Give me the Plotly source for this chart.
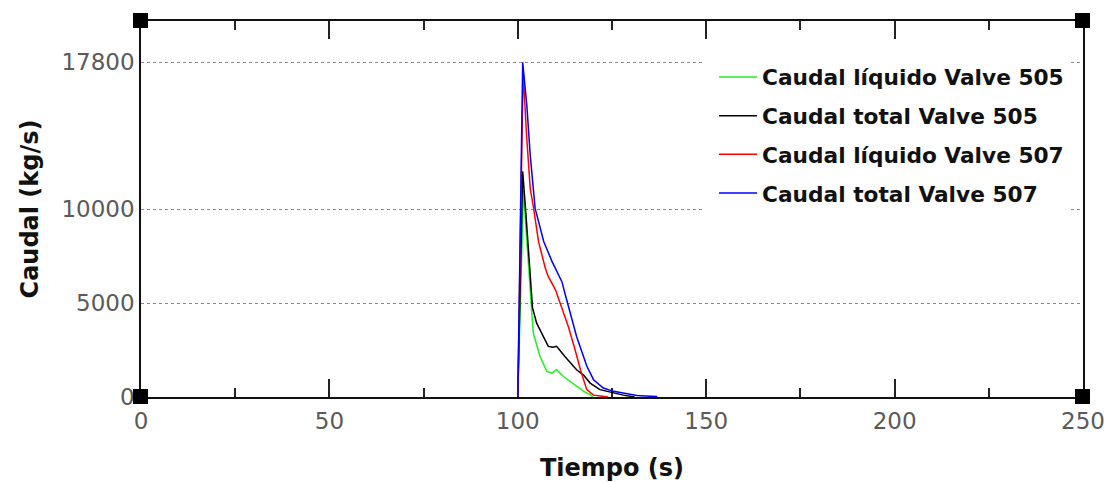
import plotly.graph_objects as go

# ---- data ----
t_liq_505 = [100, 101.5, 102.4, 103.5, 104.1, 105.9, 107.7, 109.0, 110.3, 112.1, 115.6, 117.5, 119.2, 120]
v_liq_505 = [0, 11000, 8300, 4800, 3400, 2150, 1360, 1270, 1450, 1090, 560, 300, 120, 0]

t_tot_505 = [100, 101.3, 102.2, 103.9, 105.0, 106.8, 108.1, 109.3, 110.3, 112.5, 115.6, 117.5, 119.2, 121.8, 124.9, 128, 131]
v_tot_505 = [0, 12000, 9600, 4750, 3930, 3220, 2690, 2650, 2700, 2150, 1450, 1150, 740, 390, 240, 100, 0]

t_liq_507 = [100, 101.4, 102.3, 103.3, 104.2, 105.5, 107.3, 108.1, 110.0, 111.6, 113.4, 115.2, 116.7, 118.3, 120.1, 122, 124]
v_liq_507 = [0, 17300, 14000, 11090, 10030, 8260, 6850, 6400, 5700, 4810, 3750, 2510, 1400, 390, 100, 50, 0]

t_tot_507 = [100, 101.3, 102.4, 103.3, 104.6, 106.9, 109.1, 111.7, 112.5, 113.9, 115.6, 116.5, 118.3, 120.1, 122.7, 125.4, 128.9, 131.6, 134, 137]
v_tot_507 = [0, 17800, 15500, 12860, 10030, 8260, 7200, 6135, 5520, 4460, 3220, 2700, 1650, 920, 480, 300, 160, 80, 50, 20]

names = ["Caudal líquido Valve 505", "Caudal total Valve 505",
         "Caudal líquido Valve 507", "Caudal total Valve 507"]
colors = ["#22ee22", "#000000", "#ff0000", "#0000ff"]

x_ticks = [0, 50, 100, 150, 200, 250]
y_ticks = [0, 5000, 10000, 17800]

series = [(t_liq_505, v_liq_505), (t_tot_505, v_tot_505),
          (t_liq_507, v_liq_507), (t_tot_507, v_tot_507)]

fig = go.Figure()
for i, ((t, v), n, c) in enumerate(zip(series, names, colors)):
    fig.add_trace(go.Scatter(x=t, y=v, mode="lines", name=n, legendgroup=f"g{i}",
                             line=dict(color=c, width=1.5)))

tickfont = dict(family="DejaVu Sans", size=23, color="#5a5a5a")
titlefont = dict(family="DejaVu Sans", size=24, color="#111111", weight="bold")

fig.update_layout(
    width=1114, height=482,
    margin=dict(l=141, r=31, t=21, b=85),
    paper_bgcolor="white", plot_bgcolor="white",
    showlegend=True,
    legend=dict(x=0.5966, xanchor="left", y=0.906, yanchor="top",
                bgcolor="white", borderwidth=0, tracegroupgap=7.5,
                itemwidth=38, indentation=11,
                entrywidth=370, entrywidthmode="pixels",
                font=dict(family="DejaVu Sans", size=21.7, color="#111111", weight="bold")),
    xaxis=dict(range=[0, 250], tickvals=x_ticks, ticks="inside", ticklen=18, tickwidth=1.5,
               tickcolor="#222222", showline=True, linecolor="#111111", linewidth=1.5,
               mirror="allticks", showgrid=False, zeroline=False, layer="below traces",
               tickfont=tickfont, tickformat="d", automargin=False, ticklabelstandoff=3,
               minor=dict(dtick=25, tick0=0, ticks="inside", ticklen=9, tickwidth=1.5,
                          tickcolor="#222222", showgrid=False),
               title=dict(text="Tiempo (s)", font=titlefont, standoff=28)),
    yaxis=dict(range=[0, 20000], tickvals=y_ticks, ticks="", showline=True,
               linecolor="#111111", linewidth=1.5, mirror=True, zeroline=False,
               showgrid=True, gridcolor="#888888", griddash="dot", gridwidth=1,
               layer="below traces", tickfont=tickfont, tickformat="d", automargin=False,
               title=dict(text="Caudal (kg/s)", font=titlefont, standoff=16)),
)

# corner squares
for xc in (0, 1):
    for yc in (0, 1):
        fig.add_shape(type="rect", xref="paper", yref="paper",
                      xsizemode="pixel", ysizemode="pixel",
                      xanchor=xc, yanchor=yc, x0=-8, x1=7, y0=-7, y1=8,
                      fillcolor="black", line=dict(width=0), layer="above")

fig.write_html("out.html", config={"displayModeBar": False},
               post_script="document.body.style.margin='0px';")
